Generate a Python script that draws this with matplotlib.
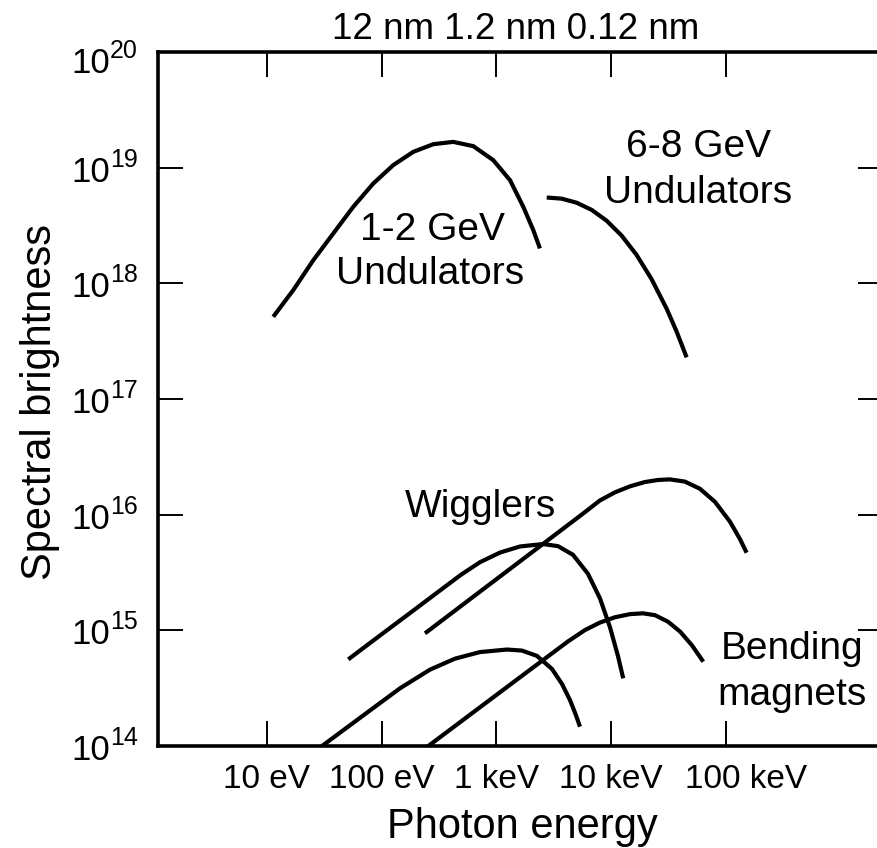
import numpy as np
import matplotlib
matplotlib.use("Agg")
import matplotlib.pyplot as plt

plt.rcParams['font.family'] = ['Liberation Sans', 'DejaVu Sans']

# curves, as log10(photon energy / eV) and log10(brightness)
und12_logE = [1.055, 1.229, 1.404, 1.578, 1.752, 1.927, 2.101, 2.276, 2.450, 2.624,
              2.799, 2.973, 3.119, 3.235, 3.322, 3.380]
und12_logB = [17.711, 17.941, 18.200, 18.431, 18.661, 18.863, 19.022, 19.137, 19.203, 19.223,
              19.186, 19.065, 18.892, 18.661, 18.460, 18.302]

und68_logE = [3.439, 3.569, 3.700, 3.831, 3.962, 4.092, 4.223, 4.354, 4.485, 4.572, 4.659]
und68_logB = [18.742, 18.732, 18.697, 18.635, 18.541, 18.413, 18.245, 18.035, 17.780, 17.582, 17.360]

wig_hi_logE = [2.378, 2.726, 3.075, 3.424, 3.758, 3.903, 4.034, 4.165, 4.295, 4.409,
               4.513, 4.644, 4.775, 4.906, 5.037, 5.124, 5.182]
wig_hi_logB = [14.974, 15.236, 15.498, 15.760, 16.011, 16.123, 16.193, 16.245, 16.282, 16.300,
               16.305, 16.286, 16.224, 16.111, 15.939, 15.789, 15.671]

wig_lo_logE = [1.709, 1.985, 2.276, 2.567, 2.691, 2.857, 3.031, 3.206, 3.406, 3.537,
               3.668, 3.798, 3.903, 3.990, 4.060, 4.106]
wig_lo_logB = [14.749, 14.955, 15.171, 15.388, 15.480, 15.589, 15.672, 15.725, 15.746, 15.728,
               15.653, 15.490, 15.277, 15.029, 14.779, 14.585]

bend_hi_logE = [2.392, 2.770, 3.206, 3.623, 3.772, 3.903, 4.034, 4.165, 4.278, 4.383,
                4.496, 4.601, 4.705, 4.804]
bend_hi_logB = [13.989, 14.270, 14.594, 14.903, 15.002, 15.067, 15.113, 15.140, 15.147, 15.131,
                15.075, 14.990, 14.871, 14.729]

bend_lo_logE = [1.480, 1.820, 2.160, 2.421, 2.639, 2.857, 3.092, 3.223, 3.354, 3.485,
                3.572, 3.642, 3.694, 3.729]
bend_lo_logB = [14.000, 14.250, 14.499, 14.660, 14.755, 14.812, 14.834, 14.825, 14.779, 14.666,
                14.537, 14.397, 14.266, 14.167]

curves = [
    (und12_logE, und12_logB),
    (und68_logE, und68_logB),
    (wig_hi_logE, wig_hi_logB),
    (wig_lo_logE, wig_lo_logB),
    (bend_hi_logE, bend_hi_logB),
    (bend_lo_logE, bend_lo_logB),
]

xtick_vals = [10, 100, 1e3, 1e4, 1e5]
xtick_labels = ['10 eV', '100 eV', '1 keV', '10 keV', '100 keV']
ytick_vals = [1e14, 1e15, 1e16, 1e17, 1e18, 1e19, 1e20]
ytick_exps = ['14', '15', '16', '17', '18', '19', '20']
wavelength_text = '12 nm 1.2 nm 0.12 nm'

W, H = 877, 848
fig = plt.figure(figsize=(W / 100, H / 100), dpi=100)

# axes box runs a little past the right edge of the figure, like the original
x0, x1, y0, y1 = 158, 883, 52, 746
ax = fig.add_axes([x0 / W, 1 - y1 / H, (x1 - x0) / W, (y1 - y0) / H])

for logE, logB in curves:
    ax.plot(10 ** np.array(logE), 10 ** np.array(logB), color='black', lw=3.0,
            solid_capstyle='butt', solid_joinstyle='round')

ax.set_xscale('log')
ax.set_yscale('log')
ax.set_xlim(10 ** 0.05, 10 ** 6.371)
ax.set_ylim(1e14, 1e20)

ax.set_xticks(xtick_vals)
ax.set_yticks(ytick_vals)
ax.minorticks_off()
ax.set_xticklabels([])
ax.set_yticklabels([])
ax.tick_params(axis='both', which='major', direction='in', length=18, width=1.4,
               top=True, right=True, color='black')
for side in ['left', 'bottom', 'top', 'right']:
    ax.spines[side].set_linewidth(2.6)

pt = 0.72  # points per pixel at dpi 100
tick_fs = 24

# x tick labels, the last one sits a bit right of its tick in the original
for i, (v, lab) in enumerate(zip(xtick_vals, xtick_labels)):
    dx = 20 if i == len(xtick_vals) - 1 else 0
    ax.annotate(lab, xy=(v, 0), xycoords=ax.get_xaxis_transform(),
                xytext=(dx * pt, -42 * pt), textcoords='offset points',
                ha='center', va='baseline', fontsize=tick_fs, annotation_clip=False)

# y tick labels as "10" with a raised exponent
for v, e in zip(ytick_vals, ytick_exps):
    dy = -7 if e == '20' else 0
    ax.annotate('10', xy=(0, v), xycoords=ax.get_yaxis_transform(),
                xytext=(-48 * pt, (-14 + dy) * pt), textcoords='offset points',
                ha='right', va='baseline', fontsize=tick_fs + 1, annotation_clip=False)
    ax.annotate(e, xy=(0, v), xycoords=ax.get_yaxis_transform(),
                xytext=(-48 * pt, (1 + dy) * pt), textcoords='offset points',
                ha='left', va='baseline', fontsize=(tick_fs + 1) * 0.72,
                annotation_clip=False)


def px(x, y):
    return x / W, 1 - y / H


fig.text(*px(516, 39), wavelength_text, fontsize=26.5, ha='center', va='baseline')
fig.text(*px(522, 838), 'Photon energy', fontsize=30, ha='center', va='baseline')
fig.text(*px(40, 402), 'Spectral brightness', fontsize=30, ha='center', va='center',
         rotation=90)

label_size = 28
fig.text(*px(432, 240), '1-2 GeV', fontsize=label_size, ha='center', va='baseline')
fig.text(*px(430, 284), 'Undulators', fontsize=label_size, ha='center', va='baseline')
fig.text(*px(698, 157), '6-8 GeV', fontsize=label_size, ha='center', va='baseline')
fig.text(*px(698, 203), 'Undulators', fontsize=label_size, ha='center', va='baseline')
fig.text(*px(480, 517), 'Wigglers', fontsize=label_size, ha='center', va='baseline')
fig.text(*px(792, 659), 'Bending', fontsize=label_size, ha='center', va='baseline')
fig.text(*px(792, 705), 'magnets', fontsize=label_size, ha='center', va='baseline')

fig.savefig('out.png', dpi=100)
